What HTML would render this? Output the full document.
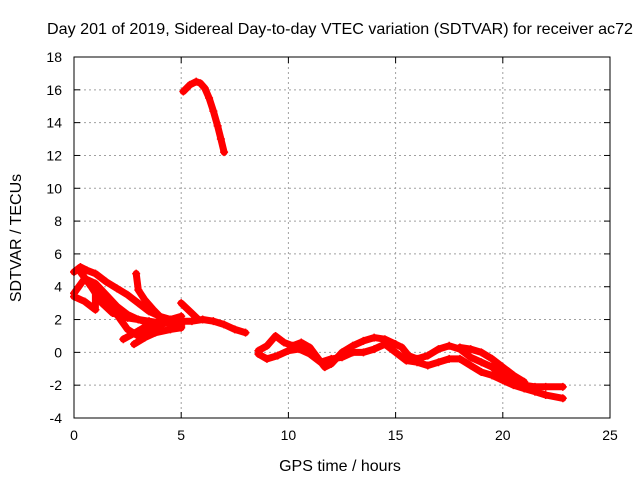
<!DOCTYPE html>
<html><head><meta charset="utf-8">
<style>
html,body{margin:0;padding:0;background:#fff;}
svg{display:block;font-family:"Liberation Sans",Arial,sans-serif;}
</style></head>
<body>
<svg id="chart" width="640" height="480" viewBox="0 0 640 480" xmlns="http://www.w3.org/2000/svg">
<rect width="640" height="480" fill="#fff"/>
<text x="340" y="34" font-size="16" text-anchor="middle" textLength="586" lengthAdjust="spacingAndGlyphs">Day 201 of 2019, Sidereal Day-to-day VTEC variation (SDTVAR) for receiver ac72</text>
<text x="340" y="471" font-size="16" text-anchor="middle">GPS time / hours</text>
<text transform="translate(21,238) rotate(-90)" font-size="16" text-anchor="middle">SDTVAR / TECUs</text>
<g id="grid"></g>
<g id="marks"></g>
<rect x="74" y="57" width="536" height="361" fill="none" stroke="#000" stroke-width="1"/>
</svg>
<script>
const xTicks=[0,5,10,15,20,25];
const yTicks=[-4,-2,0,2,4,6,8,10,12,14,16,18];
const seriesTop=[[5.1,15.9],[5.4,16.3],[5.7,16.5],[5.9,16.4],[6.1,16.1],[6.3,15.5],[6.5,14.7],[6.7,13.8],[6.85,13.0],[7.0,12.2]];
const seriesA=[[0,4.9],[0.3,5.2],[0.6,5.0],[1.0,4.8],[1.5,4.3],[2.0,3.9],[2.5,3.5],[3.0,3.0],[3.5,2.5],[4.0,2.2],[4.5,2.0],[5.0,1.9],[5.5,1.9],[6.0,2.0],[6.5,1.9],[7.0,1.7],[7.5,1.4],[8.0,1.2]];
const seriesB=[[0.3,4.9],[0.8,4.0],[1.3,3.0],[1.8,2.4],[2.5,2.1],[3.0,2.0],[3.5,1.9],[4.0,1.8],[5.0,1.7]];
const seriesC=[[0,3.6],[0.5,4.5],[1.0,4.2],[1.5,3.5],[2.0,2.8],[2.5,2.3],[3.0,2.0],[3.5,1.8]];
const seriesD=[[0,3.4],[0.5,3.1],[1.0,2.6],[1.0,4.0],[1.5,3.3],[2.0,2.3],[2.5,1.4],[3.0,1.0],[3.5,1.3],[4.0,1.6],[4.5,2.0],[5.0,2.2]];
const seriesE=[[2.9,4.8],[3.0,3.8],[3.3,3.2],[3.7,2.6],[4.0,2.2]];
const seriesF=[[2.3,0.8],[3.0,1.3],[3.5,1.7],[4.0,1.9],[4.5,1.8],[5.0,1.6]];
const seriesG=[[2.8,0.5],[3.3,0.9],[3.8,1.2],[4.5,1.4],[5.0,1.5]];
const seriesH=[[5.0,3.0],[5.4,2.5],[5.8,2.0]];
const seriesL1=[[8.6,0.1],[9.0,0.4],[9.4,1.0],[9.8,0.6],[10.2,0.4],[10.6,0.6],[11.0,0.3],[11.4,-0.4],[11.7,-0.9],[12.0,-0.7],[12.5,0.0],[13.0,0.4],[13.5,0.7],[14.0,0.9],[14.5,0.8],[15.0,0.5],[15.3,0.3],[15.6,-0.2],[16.0,-0.4],[16.5,-0.2],[17.0,0.2],[17.5,0.4],[18.0,0.2],[18.5,-0.3],[19.0,-0.6],[19.5,-0.9],[20.0,-1.4],[20.5,-1.8],[21.0,-2.0],[21.5,-2.1],[22.0,-2.1],[22.8,-2.1]];
const seriesL2=[[8.6,-0.1],[9.0,-0.4],[9.5,-0.2],[10.0,0.1],[10.5,0.2],[11.0,-0.1],[11.5,-0.6],[12.0,-0.4],[12.5,-0.3],[13.0,0.0],[13.5,0.0],[14.0,0.2],[14.5,0.5],[15.0,0.0],[15.5,-0.5],[16.0,-0.6],[16.5,-0.8],[17.0,-0.6],[17.5,-0.4],[18.0,-0.4],[18.5,-0.8],[19.0,-1.2],[19.5,-1.4],[20.0,-1.7],[20.5,-2.0],[21.0,-2.2],[21.5,-2.4],[22.0,-2.6],[22.8,-2.8]];
const seriesL3=[[18.0,0.3],[18.5,0.2],[19.0,0.0],[19.5,-0.4],[20.0,-0.9],[20.5,-1.4],[21.0,-1.8]];
const allSeries=[seriesTop,seriesA,seriesB,seriesC,seriesD,seriesE,seriesF,seriesG,seriesH,seriesL1,seriesL2,seriesL3];

const NS="http://www.w3.org/2000/svg";
const X0=74,X1=610,Y0=418,Y1=57;
function xs(t){return X0+(t-0)/(25-0)*(X1-X0);}
function ys(v){return Y0-(v-(-4))/(18-(-4))*(Y0-Y1);}
const grid=document.getElementById('grid');
const marks=document.getElementById('marks');
function mk(tag,attrs,parent){const e=document.createElementNS(NS,tag);for(const k in attrs)e.setAttribute(k,attrs[k]);parent.appendChild(e);return e;}
xTicks.forEach(t=>{
  const x=xs(t);
  if(t>0&&t<25){const g=mk('line',{x1:x,y1:Y1,x2:x,y2:Y0,stroke:'#a0a0a0','stroke-dasharray':'2,3'},grid);
  
  }
  mk('line',{x1:x,y1:Y0,x2:x,y2:Y0-6,stroke:'#000'},grid);
  mk('line',{x1:x,y1:Y1,x2:x,y2:Y1+6,stroke:'#000'},grid);
  const l=mk('text',{x:x,y:Y0+22,'font-size':'14','text-anchor':'middle'},grid);
  l.textContent=t;
  
  
});
yTicks.forEach(v=>{
  const y=ys(v);
  if(v>-4&&v<18){const g=mk('line',{x1:X0,y1:y,x2:X1,y2:y,stroke:'#a0a0a0','stroke-dasharray':'2,3'},grid);
  
  }
  mk('line',{x1:X0,y1:y,x2:X0+6,y2:y,stroke:'#000'},grid);
  mk('line',{x1:X1,y1:y,x2:X1-6,y2:y,stroke:'#000'},grid);
  const l=mk('text',{x:X0-12,y:y+5,'font-size':'14','text-anchor':'end'},grid);
  l.textContent=v;
  
  
});
allSeries.forEach((s,i)=>{
  const d=s.map((p,j)=>(j?'L':'M')+xs(p[0]).toFixed(1)+','+ys(p[1]).toFixed(1)).join(' ');
  const p=mk('path',{d:d,fill:'none',stroke:'#ff0000','stroke-width':7,'stroke-linejoin':'round','stroke-linecap':'round'},marks);
  
  
  s.forEach(pt=>{
    const x=xs(pt[0]),y=ys(pt[1]);
    const m=mk('path',{d:`M${x-4},${y}H${x+4}M${x},${y-4}V${y+4}`,stroke:'#ff0000','stroke-width':1.5},marks);
    
    
  });
});
</script>
</body></html>
